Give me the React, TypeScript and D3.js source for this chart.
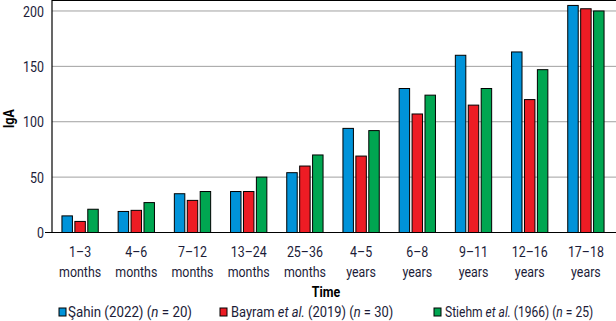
import React, { useEffect, useRef } from "react";
import * as d3 from "d3";

const categories = [
  ["1–3", "months"],
  ["4–6", "months"],
  ["7–12", "months"],
  ["13–24", "months"],
  ["25–36", "months"],
  ["4–5", "years"],
  ["6–8", "years"],
  ["9–11", "years"],
  ["12–16", "years"],
  ["17–18", "years"],
];
const sahin = [15, 19, 35, 37, 54, 94, 130, 160, 163, 205];
const bayram = [10, 20, 29, 37, 60, 69, 107, 115, 120, 202];
const stiehm = [21, 27, 37, 50, 70, 92, 124, 130, 147, 200];
const yTicks = [0, 50, 100, 150, 200];
const seriesNames = ["sahin", "bayram", "stiehm"];
const colors = ["#0093d9", "#ed1c24", "#00a651"];

const W = 616;
const H = 321;
const left = 52;
const right = 614;
const top = 1;
const bottom = 232.5;
const FONT = "Roboto, 'Liberation Sans', sans-serif";
const TXT = "#1c1c38";
const SX = 0.8;
const FS = 15.5;

function T({ x, y, anchor = "start", children, bold = false, fill = TXT, dy, len }: any) {
  return (
    <text
      transform={`translate(${x},${y}) scale(${SX},1)`}
      textAnchor={anchor}
      fontSize={FS}
      fontWeight={bold ? "bold" : "normal"}
      fill={fill}
      dy={dy}
      data-x={x}
      data-y={y}
      data-len={len}
      className={len ? "fit" : undefined}
    >
      {children}
    </text>
  );
}

export default function App() {
  const ref = useRef<SVGSVGElement>(null);
  const x0 = d3
    .scaleBand<number>()
    .domain(d3.range(categories.length))
    .range([left, right])
    .paddingInner(0.354)
    .paddingOuter(0.177);
  const x1 = d3
    .scaleBand<string>()
    .domain(seriesNames)
    .range([0, x0.bandwidth()])
    .paddingInner(0.19);
  const y = d3.scaleLinear().domain([0, 209]).range([bottom, top]);
  const data = [sahin, bayram, stiehm];

  useEffect(() => {
    if (!ref.current) return;
    d3.select(ref.current)
      .selectAll<SVGTextElement, unknown>("text.fit")
      .each(function () {
        const w = this.getComputedTextLength();
        const target = +(this.getAttribute("data-len") || 0);
        const x = this.getAttribute("data-x");
        const yy = this.getAttribute("data-y");
        if (w > 0 && target > 0) {
          this.setAttribute("transform", `translate(${x},${yy}) scale(${target / w},1)`);
        }
      });
  }, []);

  return (
    <svg
      ref={ref}
      width={W}
      height={H}
      style={{ position: "absolute", left: 0, top: 0, background: "#fff" }}
      fontFamily={FONT}
    >
      {yTicks.slice(1).map((t) => (
        <line key={t} x1={left} x2={right + 2} y1={y(t)} y2={y(t)} stroke="#a0a0a0" strokeWidth={1} />
      ))}
      {yTicks.map((t) => (
        <T key={"yt" + t} x={44} y={y(t)} dy="0.36em" anchor="end">
          {t}
        </T>
      ))}
      {categories.map((c, i) =>
        data.map((s, j) => (
          <rect
            key={i + "-" + j}
            x={(x0(i) as number) + (x1(seriesNames[j]) as number)}
            y={y(s[i])}
            width={x1.bandwidth()}
            height={bottom - y(s[i])}
            fill={colors[j]}
            stroke="#000"
            strokeWidth={1}
          />
        ))
      )}
      <line x1={left} x2={left} y1={0} y2={bottom} stroke="#000" strokeWidth={1.2} />
      <line x1={left} x2={W} y1={0.5} y2={0.5} stroke="#000" strokeWidth={1.2} />
      <line x1={left - 7} x2={right + 2} y1={bottom} y2={bottom} stroke="#000" strokeWidth={1.2} />
      {categories.map((c, i) => {
        const cx = (x0(i) as number) + x0.bandwidth() / 2;
        return (
          <g key={"xt" + i}>
            <T x={cx} y={257} anchor="middle">{c[0]}</T>
            <T x={cx} y={277} anchor="middle">{c[1]}</T>
          </g>
        );
      })}
      <T x={326} y={297} anchor="middle" bold fill="#000">
        Time
      </T>
      <text
        transform={`translate(14,${(top + bottom) / 2 + 2}) rotate(-90) scale(${SX},1)`}
        textAnchor="middle"
        fontSize={FS}
        fontWeight="bold"
        fill="#000"
      >
        IgA
      </text>
      <rect x={59} y={308} width={7} height={8} fill={colors[0]} stroke="#000" strokeWidth={1} />
      <T x={68} y={317} len={124}>
        Şahin (2022) (<tspan fontStyle="italic">n</tspan> = 20)
      </T>
      <rect x={220} y={308} width={7} height={8} fill={colors[1]} stroke="#000" strokeWidth={1} />
      <T x={231} y={317} len={162}>
        Bayram <tspan fontStyle="italic">et al.</tspan> (2019) (<tspan fontStyle="italic">n</tspan> = 30)
      </T>
      <rect x={434} y={308} width={7} height={8} fill={colors[2]} stroke="#000" strokeWidth={1} />
      <T x={445} y={317} len={148}>
        Stiehm <tspan fontStyle="italic">et al.</tspan> (1966) (<tspan fontStyle="italic">n</tspan> = 25)
      </T>
    </svg>
  );
}
